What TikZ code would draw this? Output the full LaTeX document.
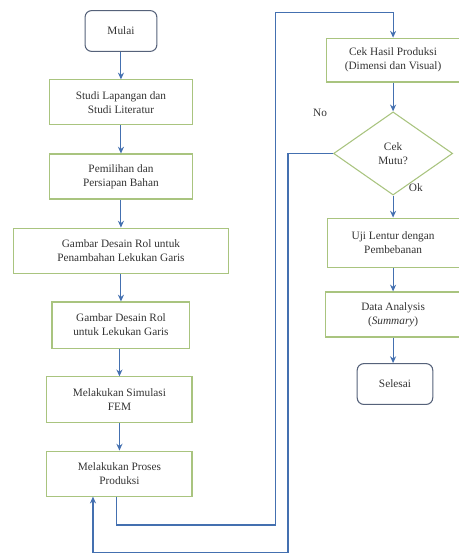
\documentclass[tikz,border=0pt]{standalone}
\usepackage{fontspec}
\setmainfont{Liberation Serif}
\usepackage{xcolor}
\usepackage{tikz}
\usetikzlibrary{arrows.meta,positioning,shapes.geometric}
\definecolor{boxgreen}{HTML}{A9C47F}
\definecolor{termgray}{HTML}{56627A}
\definecolor{flowblue}{HTML}{4470B0}
\definecolor{textgray}{HTML}{333333}
\tikzset{
  stepbox/.style={draw=boxgreen, thick, align=center, fill=white, text=textgray, inner sep=3pt, minimum height=11.9mm},
  terminal/.style={draw=termgray, thick, rounded corners=5pt, align=center, fill=white, text=textgray, minimum height=10.8mm},
  decision/.style={diamond, draw=boxgreen, thick, align=center, fill=white, text=textgray, inner sep=1pt, minimum width=31.5mm, minimum height=22mm},
  flowlabel/.style={text=textgray, inner sep=1pt},
  arrow/.style={-{Stealth[length=1.8mm, width=1.6mm]}, line width=0.8pt, draw=flowblue}
}

\begin{document}
\begin{tikzpicture}[font=\fontsize{8.5}{10.5}\selectfont]
  \useasboundingbox (0,0) rectangle (12.14,-14.71);

  % left column
  \node[terminal, minimum width=19mm] (mulai) at (3.20,-0.82) {Mulai};
  \node[stepbox, minimum width=38mm] (studi) at (3.20,-2.71) {Studi Lapangan dan\\Studi Literatur};
  \node[stepbox, minimum width=38mm] (bahan) at (3.20,-4.67) {Pemilihan dan\\Persiapan Bahan};
  \node[stepbox, minimum width=57mm] (desainA) at (3.20,-6.63) {Gambar Desain Rol untuk\\Penambahan Lekukan Garis};
  \node[stepbox, minimum width=36.5mm, minimum height=12.2mm] (desainB) at (3.20,-8.60) {Gambar Desain Rol\\untuk Lekukan Garis};
  \node[stepbox, minimum width=38.4mm, minimum height=12.2mm] (simulasi) at (3.16,-10.58) {Melakukan Simulasi\\FEM};
  \node[stepbox, minimum width=38.4mm] (produksi) at (3.16,-12.53) {Melakukan Proses\\Produksi};

  % right column
  \node[stepbox, minimum width=35.2mm, minimum height=11.6mm] (cekhasil) at (10.40,-1.59) {Cek Hasil Produksi\\(Dimensi dan Visual)};
  \node[decision] (cekmutu) at (10.40,-4.06) {Cek\\Mutu?};
  \node[stepbox, minimum width=34.9mm, minimum height=13mm] (lentur) at (10.40,-6.42) {Uji Lentur dengan\\Pembebanan};
  \node[stepbox, minimum width=35.7mm] (analisis) at (10.40,-8.32) {Data Analysis\\(\textit{Summary})};
  \node[terminal, minimum width=20mm] (selesai) at (10.45,-10.16) {Selesai};

  \node[flowlabel] (no) at (8.47,-2.99) {No};
  \node[flowlabel] (ok) at (11.00,-4.97) {Ok};

  \coordinate (turnA) at (7.28,-13.89);
  \coordinate (turnB) at (7.28,-0.34);
  \coordinate (loopA) at (7.62,-14.62);
  \coordinate (loopB) at (2.46,-14.62);

  \draw[arrow] (mulai) -- (mulai |- studi.north);
  \draw[arrow] (studi) -- (bahan);
  \draw[arrow] (bahan) -- (desainA);
  \draw[arrow] (desainA) -- (desainB);
  \draw[arrow] (desainB.south -| simulasi) -- (simulasi);
  \draw[arrow] (simulasi) -- (produksi);
  \draw[arrow] ([xshift=-2pt]produksi.south) |- (turnA) -- (turnB) -| (cekhasil.north);
  \draw[arrow] (cekhasil) -- (cekmutu);
  \draw[arrow] (cekmutu) -- (lentur);
  \draw[arrow] (lentur) -- (analisis);
  \draw[arrow] (analisis.south) -- (analisis.south |- selesai.north);
  \draw[arrow] (cekmutu.west) -| (loopA) -- (loopB) -- (loopB |- produksi.south);
\end{tikzpicture}
\end{document}
